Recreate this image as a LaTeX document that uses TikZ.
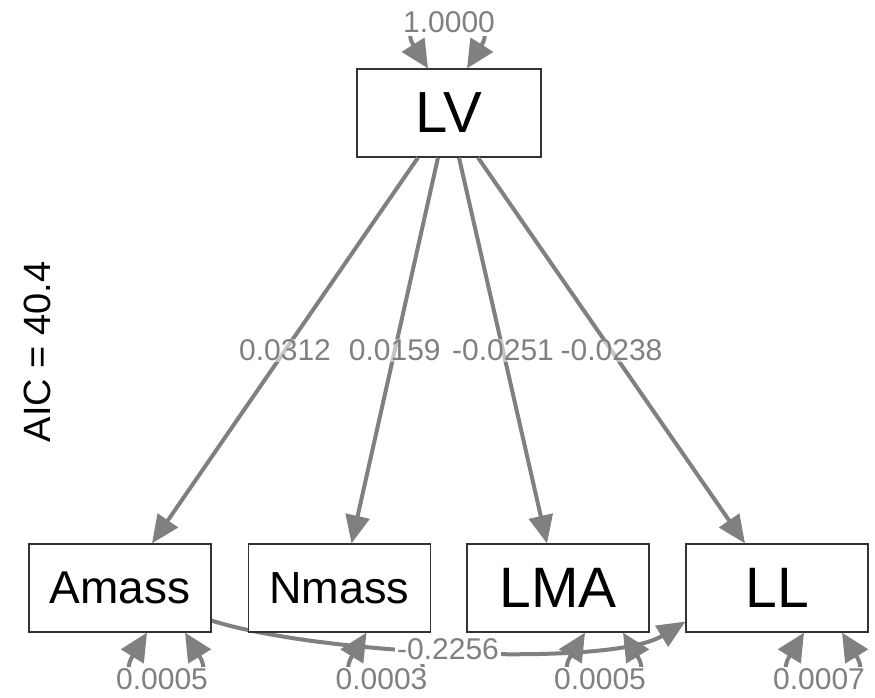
\documentclass[tikz,border=0pt]{standalone}
\usepackage{fontspec}
\setmainfont{Liberation Sans}
\usetikzlibrary{arrows.meta,calc,backgrounds}
\definecolor{edgegray}{HTML}{808080}
\definecolor{boxgray}{HTML}{333333}
\begin{document}
\begin{tikzpicture}[x=1pt,y=-1pt,
  box/.style={draw=boxgray,line width=1.2pt,fill=white,minimum height=88pt,minimum width=182pt,inner sep=0pt},
  pathedge/.style={draw=edgegray,line width=4pt,-{Triangle[length=28pt,width=24pt]}},
  loopedge/.style={draw=edgegray,line width=4pt,{Triangle[length=28pt,width=26pt]}-{Triangle[length=28pt,width=26pt]}},
  elab/.style={text=edgegray,font=\fontsize{30}{30}\selectfont,inner sep=1pt},
  midlab/.style={elab,fill=white,fill opacity=0.55,text opacity=1,pos=0.5},
  varlab/.style={elab,fill=white,anchor=base,inner ysep=2pt}]
\useasboundingbox (0,0) rectangle (875,697);

% observed and latent boxes
\node[box,minimum width=184pt,font=\fontsize{58}{58}\selectfont] (LV) at (449,113) {LV};
\node[box,font=\fontsize{46}{46}\selectfont] (Amass) at (120,588) {Amass};
\node[box,font=\fontsize{45}{45}\selectfont] (Nmass) at (339.5,588) {Nmass};
\node[box,font=\fontsize{57}{57}\selectfont] (LMA) at (558,588) {LMA};
\node[box,font=\fontsize{57}{57}\selectfont] (LL) at (777,588) {LL};

% covariance (behind the boxes)
\begin{pgfonlayer}{background}
\draw[pathedge] ($(Amass.south east)+(0,-12)$) .. controls (320,655) and (610,668) .. ($(LL.south west)+(0,-11)$);
\end{pgfonlayer}

% loadings
\draw[pathedge] ($(LV.south)+(-31,0)$) -- node[midlab] (l1) {0.0312} ($(Amass.north)+(32,0)$);
\draw[pathedge] ($(LV.south)+(-11,0)$) -- node[midlab] (l2) {0.0159} ($(Nmass.north)+(12,0)$);
\draw[pathedge] ($(LV.south)+(10,0)$) -- node[midlab] (l3) {-0.0251} ($(LMA.north)+(-11,0)$);
\draw[pathedge] ($(LV.south)+(29,0)$) -- node[midlab] (l4) {-0.0238} ($(LL.north)+(-32,0)$);

% variance of LV
\draw[loopedge] ($(LV.north)+(-21,0)$) .. controls ($(LV.north)+(-60,-62)$) and ($(LV.north)+(57,-62)$) .. ($(LV.north)+(18,0)$);
\node[varlab,inner ysep=4pt] (LVvar) at (449,32) {1.0000};

% residual variances
\foreach \n/\v in {Amass/0.0005,Nmass/0.0003,LMA/0.0005,LL/0.0007}{
  \draw[loopedge] ($(\n.south)+(27,0)$) .. controls ($(\n.south)+(-15,68)$) and ($(\n.south)+(107,68)$) .. ($(\n.south)+(65,0)$);
  \node[varlab] (\n-var) at ($(\n.south)+(42,57)$) {\v};
}

% covariance label
\node[elab,fill=white,anchor=base,inner xsep=2pt,inner ysep=5pt] (covlab) at (448,659) {-0.2256};

% fit index
\node[font=\fontsize{38}{38}\selectfont,rotate=90,anchor=base,inner sep=0pt] (aic) at (50,352) {AIC = 40.4};
\end{tikzpicture}
\end{document}
